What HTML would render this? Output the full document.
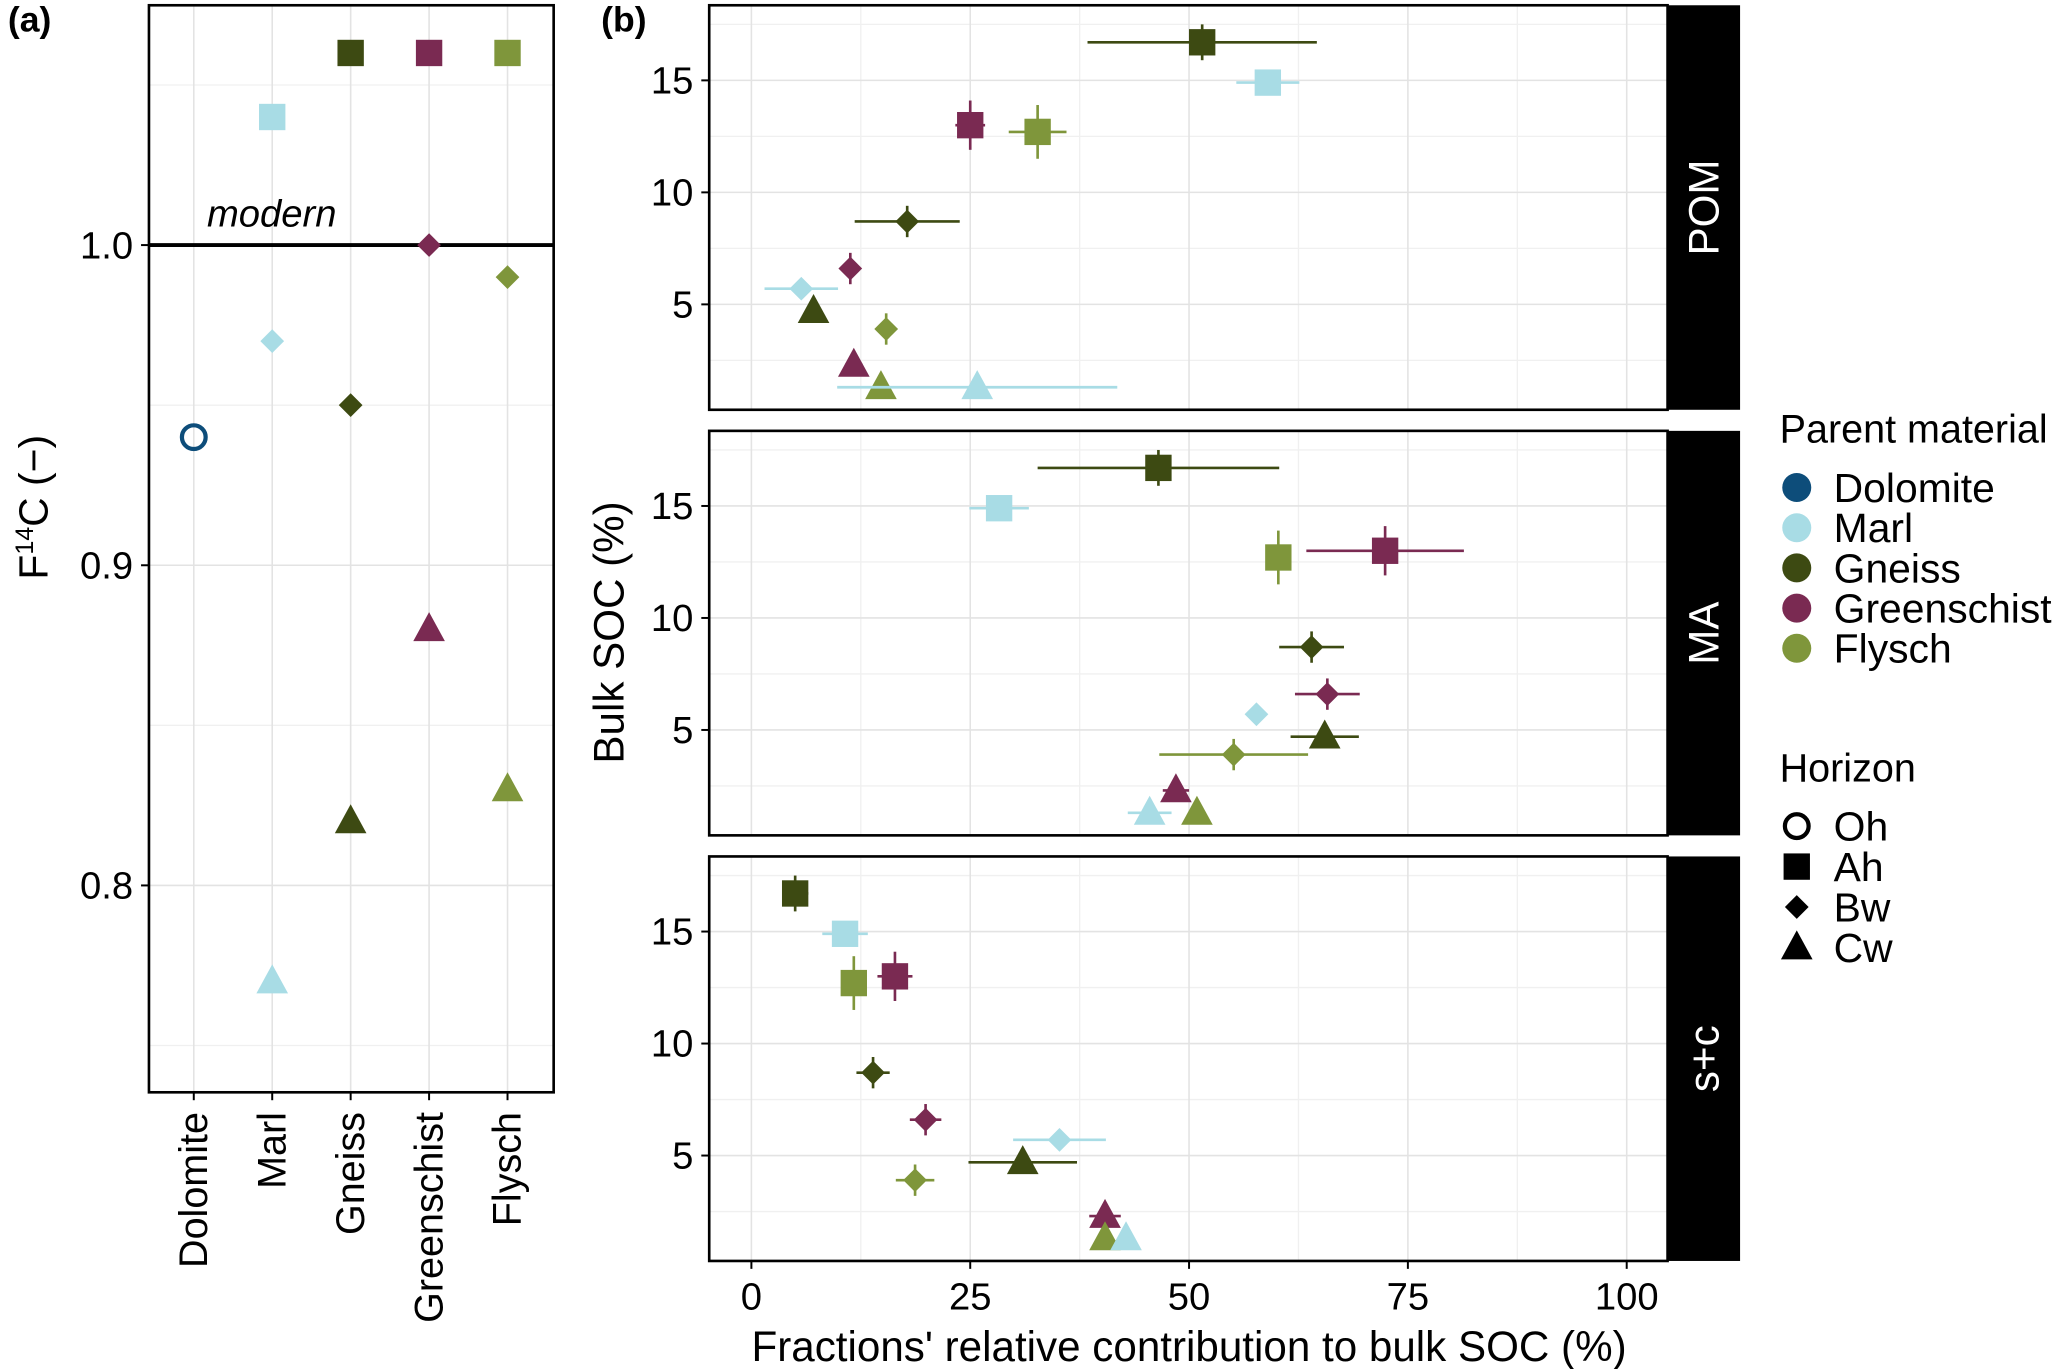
<!DOCTYPE html>
<html><head><meta charset="utf-8"><style>
html,body{margin:0;padding:0;background:#fff}
svg{display:block;font-family:"Liberation Sans",Arial,sans-serif}
</style></head><body>
<svg id="c" width="2067" height="1369" viewBox="0 0 1568 1039" preserveAspectRatio="none" xmlns="http://www.w3.org/2000/svg"></svg>
<script>
const materials = ["Dolomite","Marl","Gneiss","Greenschist","Flysch"];
const matColors = ["#0d4d7a","#a8dce5","#3d4a12","#7a2a52","#7f963b"];
const horizons = ["Oh","Ah","Bw","Cw"];
const f14cMat = [0,1,1,1,2,2,2,3,3,3,4,4,4];
const f14cHor = [0,1,2,3,1,2,3,1,2,3,1,2,3];
const f14cVal = [0.94,1.04,0.97,0.77,1.06,0.95,0.82,1.06,1.00,0.88,1.06,0.99,0.83];
const aTicks = [0.8,0.9,1.0];
const sMat = [2,1,3,4,2,3,1,2,4,3,4,1];
const sHor = [1,1,1,1,2,2,2,3,2,3,3,3];
const socVal = [16.7,14.9,13.0,12.7,8.7,6.6,5.7,4.7,3.9,2.3,1.3,1.3];
const socErr = [0.8,0,1.1,1.2,0.7,0.7,0,0,0.7,0,0,0];
const facets = ["POM","MA","s+c"];
const fracPOM = [51.5,59,25,32.7,17.8,11.3,5.7,7.1,15.4,11.7,14.8,25.8];
const errPOM = [13.1,3.6,1.7,3.3,6,0,4.2,0,0,1,0,16];
const fracMA = [46.5,28.3,72.4,60.2,64,65.8,57.7,65.5,55.1,48.5,50.9,45.5];
const errMA = [13.8,3.4,9,0,3.7,3.7,0,3.9,8.5,1.5,0,2.5];
const fracSC = [5,10.7,16.4,11.7,13.9,19.9,35.2,31,18.7,40.4,40.4,42.8];
const errSC = [1.5,2.6,2,0,1.9,1.8,5.3,6.2,2.2,1.8,0,0];
const xTicks = [0,25,50,75,100];
const yTicks = [5,10,15];

const svg=document.getElementById('c');
const NS='http://www.w3.org/2000/svg';
function mk(t,a,p){const e=document.createElementNS(NS,t);for(const k in a)e.setAttribute(k,a[k]);(p||svg).appendChild(e);return e;}
function txt(s,a,p){const e=mk('text',a,p);e.textContent=s;return e;}
function marker(h,x,y,col,p){
  let e;
  if(h===0) e=mk('circle',{cx:x,cy:y,r:9,fill:'none',stroke:col,'stroke-width':3.2},p);
  else if(h===1) e=mk('rect',{x:x-10,y:y-10,width:20,height:20,fill:col},p);
  else if(h===2) e=mk('polygon',{points:`${x},${y-9} ${x+9},${y} ${x},${y+9} ${x-9},${y}`,fill:col},p);
  else e=mk('polygon',{points:`${x},${y-13} ${x+12},${y+9} ${x-12},${y+9}`,fill:col},p);
  return e;
}
const TF=29;
// ---------- panel a ----------
const ga=mk('g',{});
const aL=113,aR=420,aT=4,aB=829;
const ay=v=>186-(v-1.0)*2430;
const ax=i=>147+i*59.5;
for(const v of [0.75,0.85,0.95,1.05]){mk('line',{x1:aL,x2:aR,y1:ay(v),y2:ay(v),stroke:'#f0f0f0','stroke-width':1},ga);}
for(const v of aTicks){mk('line',{x1:aL,x2:aR,y1:ay(v),y2:ay(v),stroke:'#e3e3e3','stroke-width':1.2},ga);}
materials.forEach((m,i)=>mk('line',{x1:ax(i),x2:ax(i),y1:aT,y2:aB,stroke:'#e3e3e3','stroke-width':1.2},ga));
const ml=mk('line',{x1:aL,x2:aR,y1:ay(1.0),y2:ay(1.0),stroke:'#000','stroke-width':3},ga);

const mt=txt('modern',{x:157,y:172,'font-size':29,'font-style':'italic'},ga);

f14cVal.forEach((v,k)=>{const e=marker(f14cHor[k],ax(f14cMat[k]),ay(v),matColors[f14cMat[k]],ga);
  
  });
mk('rect',{x:aL,y:aT,width:aR-aL,height:aB-aT,fill:'none',stroke:'#000','stroke-width':2},ga);
aTicks.forEach(v=>{mk('line',{x1:aL-6,x2:aL,y1:ay(v),y2:ay(v),stroke:'#000','stroke-width':1.5},ga);
  const t=txt(v.toFixed(1),{x:aL-12,y:ay(v)+10,'font-size':TF,'text-anchor':'end'},ga);
  });
materials.forEach((m,i)=>{mk('line',{x1:ax(i),x2:ax(i),y1:aB,y2:aB+6,stroke:'#000','stroke-width':1.5},ga);
  const t=txt(m,{x:0,y:0,'font-size':30,'text-anchor':'end',transform:`translate(${ax(i)+10},${aB+15}) rotate(-90)`},ga);
  });
const yt=mk('text',{'font-size':31,'text-anchor':'middle',transform:'translate(36,385) rotate(-90)'},ga);
yt.innerHTML='F<tspan dy="-11" font-size="19">14</tspan><tspan dy="11">C (−)</tspan>';

const la=txt('(a)',{x:6,y:24,'font-size':27,'font-weight':'bold'});
// ---------- panel b ----------
const bL=538,bR=1265,sR=1320;
const bx=v=>570+v*6.64;
const tops=[4,327,650];const ph=307;
const fracs=[fracPOM,fracMA,fracSC];const errs=[errPOM,errMA,errSC];
facets.forEach((f,fi)=>{
  const g=mk('g',{});
  const T=tops[fi];const by=v=>T+312-17*v;
  for(const v of [2.5,7.5,12.5,17.5]) mk('line',{x1:bL,x2:bR,y1:by(v),y2:by(v),stroke:'#f0f0f0','stroke-width':1},g);
  for(const v of [12.5,37.5,62.5,87.5]) mk('line',{x1:bx(v),x2:bx(v),y1:T,y2:T+ph,stroke:'#f0f0f0','stroke-width':1},g);
  yTicks.forEach(v=>mk('line',{x1:bL,x2:bR,y1:by(v),y2:by(v),stroke:'#e3e3e3','stroke-width':1.2},g));
  xTicks.forEach(v=>mk('line',{x1:bx(v),x2:bx(v),y1:T,y2:T+ph,stroke:'#e3e3e3','stroke-width':1.2},g));
  const fr=fracs[fi],er=errs[fi];
  socVal.forEach((s,k)=>{const col=matColors[sMat[k]];const x=bx(fr[k]),y=by(s);
    if(er[k]>0) mk('line',{x1:bx(fr[k]-er[k]),x2:bx(fr[k]+er[k]),y1:y,y2:y,stroke:col,'stroke-width':2},g);
    if(socErr[k]>0) mk('line',{x1:x,x2:x,y1:by(s-socErr[k]),y2:by(s+socErr[k]),stroke:col,'stroke-width':2},g);
    const e=marker(sHor[k],x,y,col,g);
    
    });
  mk('rect',{x:bL,y:T,width:bR-bL,height:ph,fill:'none',stroke:'#000','stroke-width':2},g);
  const st=mk('rect',{x:bR,y:T,width:sR-bR,height:ph,fill:'#000'},g);
  
  const sl=txt(f,{'font-size':32,fill:'#fff','text-anchor':'middle',transform:`translate(${(bR+sR)/2+11},${T+ph/2}) rotate(-90)`},g);
  
  yTicks.forEach(v=>{mk('line',{x1:bL-6,x2:bL,y1:by(v),y2:by(v),stroke:'#000','stroke-width':1.5},g);
    const t=txt(String(v),{x:bL-12,y:by(v)+10,'font-size':TF,'text-anchor':'end'},g);
    });
});
xTicks.forEach(v=>{mk('line',{x1:bx(v),x2:bx(v),y1:957,y2:963,stroke:'#000','stroke-width':1.5});
  const t=txt(String(v),{x:bx(v),y:994,'font-size':TF,'text-anchor':'middle'});
  });
const xb=txt("Fractions' relative contribution to bulk SOC (%)",{x:902,y:1033,'font-size':32,'text-anchor':'middle'});

const yb=txt('Bulk SOC (%)',{'font-size':32,'text-anchor':'middle',transform:'translate(473,480) rotate(-90)'});

const lb=txt('(b)',{x:456,y:24,'font-size':27,'font-weight':'bold'});
// ---------- legend ----------
const lg=mk('g',{});
txt('Parent material',{x:1350,y:336,'font-size':30},lg);
materials.forEach((m,i)=>{const y=370+i*30.5;
  const c=mk('circle',{cx:1363,cy:y,r:11,fill:matColors[i]},lg);
  
  const t=txt(m,{x:1391,y:y+11,'font-size':31},lg);
  });
txt('Horizon',{x:1350,y:593,'font-size':30},lg);
horizons.forEach((h,i)=>{const y=627+i*30.7;
  const e=marker(i,1363,y,'#000',lg);
  
  const t=txt(h,{x:1391,y:y+11,'font-size':31},lg);
  });
</script>
</body></html>
